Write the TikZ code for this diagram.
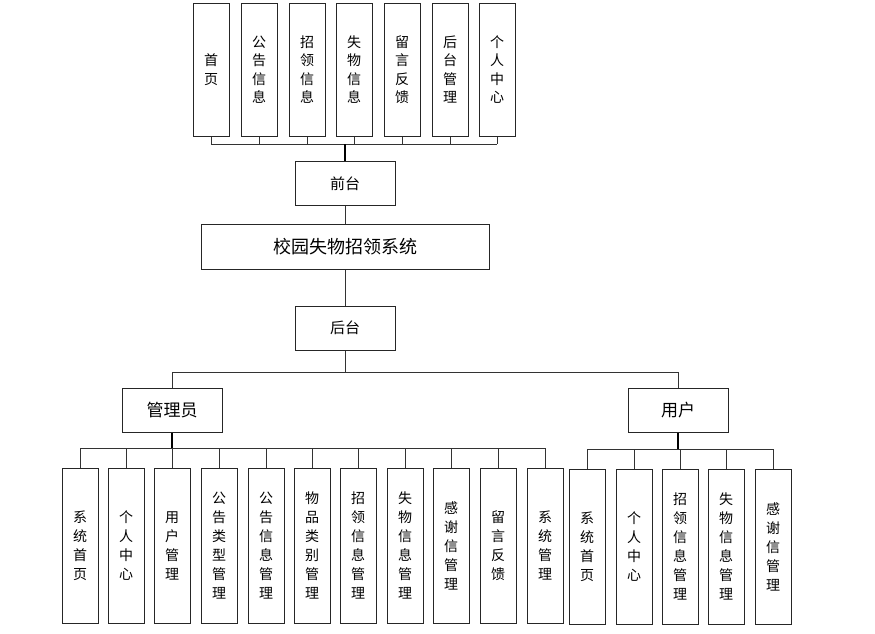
\documentclass[tikz,border=0pt]{standalone}
\usepackage{fontspec}
\setmainfont{Noto Sans CJK SC}
\usepackage{tikz}
\usetikzlibrary{positioning, calc}

\begin{document}
\begin{tikzpicture}[x=1pt, y=-1pt,
  box/.style={rectangle, draw=black!85, line width=1pt, inner sep=0pt, fill=white},
  leaf/.style={box, minimum width=36pt, minimum height=155pt, align=center, font=\fontsize{14}{19}\selectfont},
  topleaf/.style={box, minimum width=36pt, minimum height=133pt, align=center, font=\fontsize{14}{18.5}\selectfont},
  mid/.style={box, minimum width=100pt, minimum height=44pt, font=\fontsize{15}{18}\selectfont},
  role/.style={box, minimum width=100pt, minimum height=44pt, font=\fontsize{17}{20}\selectfont},
  wire/.style={draw=black!80, line width=0.9pt},
  trunk/.style={draw=black, line width=1.4pt}]
  \useasboundingbox [fill=white] (0,0) rectangle (875,633);

  % front end
  \node (f1) [topleaf] at (211,69.5) {首\\页};
  \node (f2) [topleaf] at (259,69.5) {公\\告\\信\\息};
  \node (f3) [topleaf] at (307,69.5) {招\\领\\信\\息};
  \node (f4) [topleaf] at (354,69.5) {失\\物\\信\\息};
  \node (f5) [topleaf] at (402,69.5) {留\\言\\反\\馈};
  \node (f6) [topleaf] at (450,69.5) {后\\台\\管\\理};
  \node (f7) [topleaf] at (497,69.5) {个\\人\\中\\心};

  \node (front) [mid] at (345,183.5) {前台};
  \node (sys) [box, minimum width=288pt, minimum height=45pt, font=\fontsize{18}{20}\selectfont] at (345,246.5) {校园失物招领系统};
  \node (back) [mid] at (345,328) {后台};

  \node (admin) [role] at (172,410) {管理员};
  \node (user) [role] at (678,410) {用户};

  % admin functions
  \node (a1) [leaf] at (80,545.5) {系\\统\\首\\页};
  \node (a2) [leaf] at (126,545.5) {个\\人\\中\\心};
  \node (a3) [leaf] at (172,545.5) {用\\户\\管\\理};
  \node (a4) [leaf] at (219,545.5) {公\\告\\类\\型\\管\\理};
  \node (a5) [leaf] at (266,545.5) {公\\告\\信\\息\\管\\理};
  \node (a6) [leaf] at (312,545.5) {物\\品\\类\\别\\管\\理};
  \node (a7) [leaf] at (358,545.5) {招\\领\\信\\息\\管\\理};
  \node (a8) [leaf] at (405,545.5) {失\\物\\信\\息\\管\\理};
  \node (a9) [leaf] at (451,545.5) {感\\谢\\信\\管\\理};
  \node (a10) [leaf] at (498,545.5) {留\\言\\反\\馈};
  \node (a11) [leaf] at (545,545.5) {系\\统\\管\\理};

  % user functions
  \node (u1) [leaf] at (587,546.5) {系\\统\\首\\页};
  \node (u2) [leaf] at (634,546.5) {个\\人\\中\\心};
  \node (u3) [leaf] at (680,546.5) {招\\领\\信\\息\\管\\理};
  \node (u4) [leaf] at (726,546.5) {失\\物\\信\\息\\管\\理};
  \node (u5) [leaf] at (773,546.5) {感\\谢\\信\\管\\理};

  \coordinate (fbus) at (345,144);
  \coordinate (rbus) at (345,372);
  \coordinate (abus) at (172,448);
  \coordinate (ubus) at (678,449);

  % connectors
  \foreach \n in {f1,f2,f3,f4,f5,f6,f7}
    \draw [wire] (\n.south) -- (\n.south |- fbus);
  \draw [wire] (f1.south |- fbus) -- (f7.south |- fbus);
  \draw [trunk] (front.north) -- (front.north |- fbus);
  \draw [wire] (front) -- (sys);
  \draw [wire] (sys) -- (back);
  \draw [wire] (back.south) -- (back.south |- rbus);
  \draw [wire] (admin.north) |- (rbus) -| (user.north);

  \foreach \n in {a1,a2,a3,a4,a5,a6,a7,a8,a9,a10,a11}
    \draw [wire] (\n.north) -- (\n.north |- abus);
  \draw [wire] (a1.north |- abus) -- (a11.north |- abus);
  \draw [trunk] (admin.south) -- (abus);

  \foreach \n in {u1,u2,u3,u4,u5}
    \draw [wire] (\n.north) -- (\n.north |- ubus);
  \draw [wire] (u1.north |- ubus) -- (u5.north |- ubus);
  \draw [trunk] (user.south) -- (ubus);
\end{tikzpicture}
\end{document}
